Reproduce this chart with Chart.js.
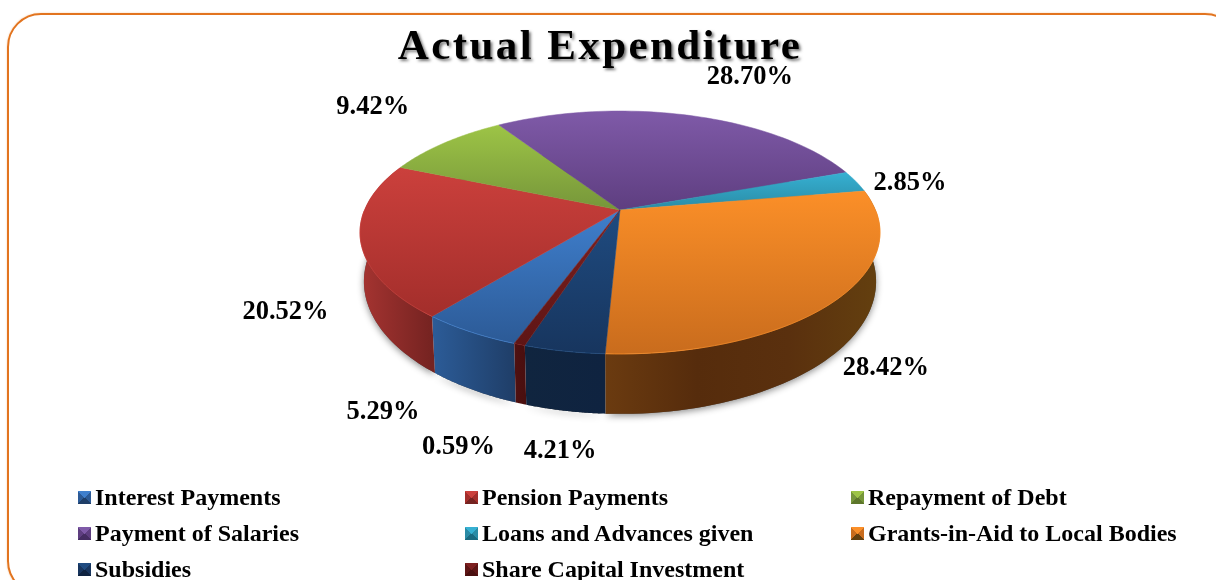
<!DOCTYPE html>
<html lang="en">
<head>
    <meta charset="UTF-8">
    <script src="https://cdn.jsdelivr.net/npm/chart.js"></script>
    <title>Actual Expenditure</title>
    <style>
        html, body { margin: 0; background: #fff; overflow: hidden; }
        #frame { position: absolute; left: 7px; top: 13px; width: 1228px; height: 578px; border: 2px solid #e2741f; border-radius: 34px; box-shadow: 0 0 2px #f6c9a0; }
        #titulo { position: absolute; left: 300px; width: 600px; top: 20px; text-align: center; font: bold 43px "Liberation Serif"; letter-spacing: 2.4px; color: #000; text-shadow: 2px 2px 3px rgba(0,0,0,.55); }
        #grafico { position: absolute; left: 0; top: 0; }
        .item { position: absolute; font: bold 24px "Liberation Serif"; color: #000; white-space: nowrap; height: 26px; line-height: 26px; padding-left: 17px; }
        .item i { position: absolute; left: 0; top: 7px; width: 13px; height: 13px; }
    </style>
</head>
<body>
    <div id="frame"></div>
    <canvas id="grafico" width="1216" height="580"></canvas>
    <div id="titulo">Actual Expenditure</div>
    <div id="legenda"></div>

    <script>
        const categorias = ['Interest Payments', 'Pension Payments', 'Repayment of Debt', 'Payment of Salaries',
            'Loans and Advances given', 'Grants-in-Aid to Local Bodies', 'Subsidies', 'Share Capital Investment']
        const valores = [5.29, 20.52, 9.42, 28.70, 2.85, 28.42, 4.21, 0.59]

        const corTopo = ['#3f7fcd', '#cb403c', '#9dc446', '#7f5aa8', '#36b0d2', '#fb8f28', '#1f4b80', '#7d2020']
        const corBase = ['#2c5a96', '#a32e2b', '#76963a', '#5e3e80', '#2a8ba5', '#c96c1d', '#17355e', '#5e1515']
        const corLado = [['#2c5c98', '#1f3e68'], ['#a63431', '#752321'], ['#6d8a33', '#5d762b'], ['#4f3570', '#452d62'],
            ['#1f7a92', '#1a6a80'], ['#6b3b10', '#562c0c', '#5a300e', '#64400f'], ['#10253f', '#0f2340'], ['#501111', '#4a0f0f']]

        // deslocamento de cada rotulo em relacao ao meio da borda da fatia
        const rotuloDx = [-87, -75, -72, 61, 54, 48, -4, -61]
        const rotuloDy = [81, 72, -36, -38, 2, 69, 100, 103]

        const escalaX = 255.5 / 210
        const escalaY = 117.3 / 210
        const persp = -0.185

        // leva um ponto do disco (angulo, raio relativo) para a tela
        const projeta = (arc, a, r) => {
            const u = Math.cos(a) * r, v = Math.sin(a) * r
            const d = 1 + persp * v
            return { x: arc.outerRadius * escalaX * u / d, y: arc.outerRadius * escalaY * v / d }
        }
        const borda = (arc, a) => {
            const p = projeta(arc, a, 1)
            return { x: arc.x + p.x, y: arc.y + p.y }
        }
        const bordaInf = (arc, a) => {
            const p = projeta(arc, a, 1)
            return { x: arc.x + p.x * 0.985, y: arc.y + p.y * 1.09 + 47 }
        }
        const amostras = (arc, fn) => {
            const pts = []
            const n = 60
            for (let i = 0; i <= n; i++) {
                pts.push(fn(arc, arc.startAngle + (arc.endAngle - arc.startAngle) * i / n))
            }
            return pts
        }
        const caminho = (ctx, pts) => {
            ctx.beginPath()
            pts.forEach((p, i) => i ? ctx.lineTo(p.x, p.y) : ctx.moveTo(p.x, p.y))
            ctx.closePath()
        }

        const pizza3d = {
            id: 'pizza3d',
            beforeDatasetDraw(chart) {
                const ctx = chart.ctx
                const arcos = chart.getDatasetMeta(0).data

                // sombra embaixo do disco
                ctx.save()
                ctx.shadowColor = 'rgba(0,0,0,0.45)'
                ctx.shadowBlur = 7
                ctx.shadowOffsetY = 2
                ctx.fillStyle = '#555'
                arcos.forEach(arc => {
                    caminho(ctx, amostras(arc, bordaInf))
                    ctx.fill()
                })
                ctx.restore()

                // parede lateral
                arcos.forEach((arc, i) => {
                    const cima = amostras(arc, borda)
                    const baixo = amostras(arc, bordaInf)
                    const frente = cima.filter(p => p.y > arc.y)
                    if (!frente.length) return
                    const xs = frente.map(p => p.x)
                    const g = ctx.createLinearGradient(Math.min(...xs), 0, Math.max(...xs), 0)
                    corLado[i].forEach((c, k) => g.addColorStop(k / (corLado[i].length - 1), c))
                    caminho(ctx, cima.concat(baixo.reverse()))
                    ctx.fillStyle = g
                    ctx.fill()
                })

                // face de cima
                arcos.forEach((arc, i) => {
                    const pts = amostras(arc, borda)
                    pts.unshift({ x: arc.x, y: arc.y })
                    const ys = pts.map(p => p.y)
                    const g = ctx.createLinearGradient(0, Math.min(...ys), 0, Math.max(...ys))
                    g.addColorStop(0, corTopo[i])
                    g.addColorStop(1, corBase[i])
                    caminho(ctx, pts)
                    ctx.fillStyle = g
                    ctx.fill()
                    ctx.strokeStyle = g
                    ctx.lineWidth = 0.5
                    ctx.stroke()

                    // filete claro so na borda da frente
                    ctx.beginPath()
                    pts.slice(1).filter(p => p.y > arc.y).forEach((p, k) => k ? ctx.lineTo(p.x, p.y) : ctx.moveTo(p.x, p.y))
                    ctx.strokeStyle = corTopo[i]
                    ctx.globalAlpha = 0.7
                    ctx.lineWidth = 1
                    ctx.stroke()
                    ctx.globalAlpha = 1
                })

                // rotulos
                ctx.fillStyle = '#000'
                ctx.font = 'bold 26.5px "Liberation Serif"'
                ctx.textAlign = 'center'
                ctx.textBaseline = 'middle'
                arcos.forEach((arc, i) => {
                    const p = borda(arc, (arc.startAngle + arc.endAngle) / 2)
                    ctx.fillText(valores[i].toFixed(2) + '%', p.x + rotuloDx[i], p.y + rotuloDy[i])
                })
                return false
            }
        }

        new Chart(document.getElementById('grafico'), {
            type: 'pie',
            data: {
                labels: categorias,
                datasets: [{ data: valores, backgroundColor: corTopo, borderWidth: 0 }]
            },
            options: {
                responsive: false,
                animation: false,
                rotation: 200,
                layout: { padding: { left: 24, bottom: 160 } },
                plugins: { legend: { display: false }, tooltip: { enabled: false } }
            },
            plugins: [pizza3d]
        })

        // legenda em tres colunas
        const legenda = document.getElementById('legenda')
        const colunas = [78, 465, 851]
        const linhas = [484, 520, 556]
        categorias.forEach((nome, i) => {
            const item = document.createElement('div')
            item.className = 'item'
            item.style.left = colunas[i % 3] + 'px'
            item.style.top = linhas[Math.floor(i / 3)] + 'px'
            item.textContent = nome
            const marca = document.createElement('i')
            marca.style.background = `conic-gradient(${corTopo[i]} 0 45deg, ${corBase[i]} 45deg 135deg, ${corLado[i][corLado[i].length - 1]} 135deg 225deg, ${corBase[i]} 225deg 315deg, ${corTopo[i]} 315deg)`
            item.prepend(marca)
            legenda.appendChild(item)
        })
    </script>
</body>
</html>
